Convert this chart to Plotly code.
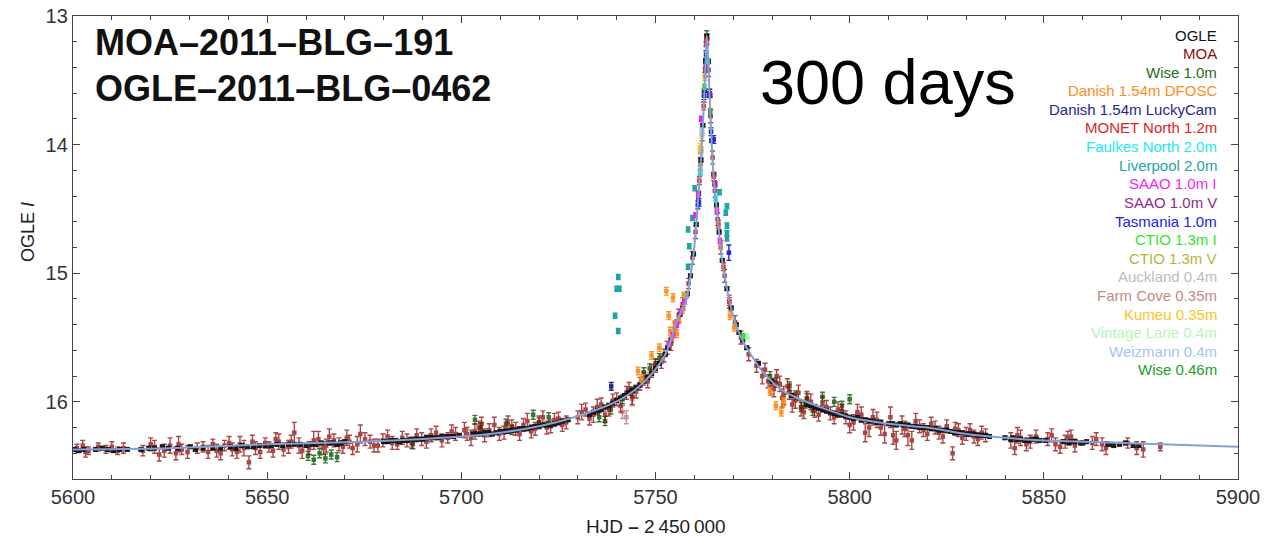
import plotly.graph_objects as go

# ---------------- data (HJD - 2450000, OGLE I magnitude) ----------------
MODEL_T = [5600, 5625, 5650, 5675, 5700, 5710, 5720, 5728, 5735, 5741, 5745, 5749.4,
           5752.4, 5754.1, 5755.4, 5758.0, 5759.0, 5759.8, 5760.5, 5761.1, 5761.7, 5762.2,
           5762.6, 5762.9, 5763.2, 5763.5, 5763.9, 5764.4, 5764.9, 5765.6, 5766.3, 5767.1,
           5768.4, 5769.3, 5770.5, 5772.2, 5774.7, 5777.7, 5782.1, 5787.2, 5792.3, 5800,
           5810, 5820, 5830, 5840, 5850, 5870, 5900]
MODEL_MAG = [16.37, 16.36, 16.33, 16.31, 16.27, 16.24, 16.19, 16.13, 16.06, 15.98, 15.90, 15.77,
             15.64, 15.51, 15.38, 15.20, 15.02, 14.85, 14.62, 14.38, 14.12, 13.85,
             13.58, 13.35, 13.15, 13.30, 13.60, 13.95, 14.22, 14.45, 14.66, 14.89,
             15.12, 15.25, 15.38, 15.51, 15.64, 15.77, 15.90, 15.98, 16.04, 16.12,
             16.17, 16.20, 16.25, 16.28, 16.30, 16.32, 16.35]

OGLE_T = [5600.3, 5601.5, 5605.8, 5607.5, 5610.5, 5612.0, 5617.5, 5619.5, 5623.0, 5624.5,
          5630.2, 5631.5, 5636.0, 5640.5, 5642.0, 5643.5, 5645.0, 5646.5, 5648.0, 5651.0,
          5652.5, 5654.0, 5655.5, 5657.0, 5660.0, 5661.5, 5664.0, 5666.0, 5668.0, 5670.0,
          5680.0, 5682.0, 5684.0, 5686.0, 5688.0, 5690.0, 5692.0, 5694.0, 5696.0, 5698.0,
          5699.5, 5704.0, 5706.0, 5708.0, 5710.0, 5712.0, 5714.0, 5716.0, 5718.0, 5720.0,
          5722.0, 5724.0, 5726.0, 5727.5, 5733.0, 5735.0, 5737.0, 5739.0, 5741.0, 5743.0,
          5745.0, 5747.0, 5749.0, 5751.0, 5752.5, 5754.0, 5755.5, 5757.0, 5758.2, 5759.0,
          5759.8, 5760.5, 5761.1, 5761.7, 5762.2, 5762.6, 5762.9, 5763.2, 5763.6, 5764.0,
          5764.5, 5765.0, 5765.7, 5766.4, 5767.2, 5768.4, 5769.5, 5770.8, 5772.5, 5789.0,
          5791.0, 5793.0, 5795.0, 5797.0, 5799.0, 5801.0, 5803.0, 5805.0, 5807.0, 5810.0,
          5812.0, 5814.0, 5816.0, 5818.0, 5820.0, 5822.0, 5824.0, 5826.0, 5828.0, 5830.0,
          5832.0, 5834.0, 5836.0, 5840.0, 5841.5, 5843.0, 5845.0, 5847.0, 5849.0, 5850.5,
          5855.0, 5856.5, 5858.0, 5859.5, 5861.0, 5866.5, 5868.0, 5869.5, 5873.0, 5874.5,
          5602.8, 5609.0, 5614.0, 5621.0, 5627.0, 5633.5, 5638.0, 5649.5, 5658.5, 5662.5,
          5667.0, 5669.0, 5681.0, 5683.0, 5685.0, 5687.0, 5689.0, 5691.0, 5693.0, 5695.0,
          5697.0, 5703.0, 5705.0, 5707.0, 5709.0, 5711.0, 5713.0, 5715.0, 5717.0, 5719.0,
          5721.0, 5723.0, 5725.0, 5734.0, 5736.0, 5738.0, 5740.0, 5742.0, 5744.0, 5746.0,
          5748.0, 5750.0, 5753.2, 5756.3, 5771.5, 5773.5, 5776.5, 5780.0, 5785.0, 5790.0,
          5792.0, 5794.0, 5796.0, 5798.0, 5800.0, 5802.0, 5804.0, 5806.0, 5808.0, 5811.0,
          5813.0, 5815.0, 5817.0, 5819.0, 5821.0, 5823.0, 5825.0, 5827.0, 5829.0, 5831.0,
          5833.0, 5835.0, 5842.0, 5844.0, 5846.0, 5848.0, 5857.0, 5860.0, 5867.5, 5871.0]
OGLE_MAG = [16.37, 16.38, 16.37, 16.36, 16.38, 16.37, 16.37, 16.36, 16.35, 16.36,
            16.35, 16.37, 16.36, 16.35, 16.36, 16.34, 16.35, 16.35, 16.34, 16.34,
            16.33, 16.34, 16.33, 16.33, 16.34, 16.33, 16.32, 16.32, 16.33, 16.31,
            16.31, 16.30, 16.31, 16.30, 16.29, 16.29, 16.28, 16.28, 16.27, 16.27,
            16.26, 16.25, 16.24, 16.25, 16.23, 16.23, 16.22, 16.21, 16.20, 16.19,
            16.18, 16.17, 16.15, 16.14, 16.10, 16.07, 16.04, 16.01, 15.97, 15.93,
            15.89, 15.84, 15.78, 15.70, 15.63, 15.52, 15.38, 15.27, 15.16, 15.02,
            14.85, 14.62, 14.38, 14.12, 13.85, 13.58, 13.35, 13.16, 13.35, 13.62,
            13.97, 14.23, 14.47, 14.68, 14.90, 15.12, 15.27, 15.40, 15.52, 16.02,
            16.04, 16.06, 16.08, 16.10, 16.11, 16.13, 16.14, 16.15, 16.16, 16.17,
            16.18, 16.18, 16.19, 16.20, 16.20, 16.21, 16.22, 16.23, 16.24, 16.25,
            16.25, 16.26, 16.27, 16.28, 16.29, 16.29, 16.30, 16.29, 16.30, 16.30,
            16.31, 16.32, 16.31, 16.32, 16.31, 16.33, 16.34, 16.33, 16.34, 16.34,
            16.37, 16.37, 16.37, 16.36, 16.36, 16.36, 16.36, 16.34, 16.33, 16.33,
            16.32, 16.32, 16.31, 16.30, 16.30, 16.29, 16.29, 16.28, 16.28, 16.27,
            16.27, 16.25, 16.25, 16.24, 16.24, 16.23, 16.22, 16.21, 16.21, 16.19,
            16.18, 16.18, 16.16, 16.08, 16.06, 16.03, 15.99, 15.95, 15.91, 15.87,
            15.81, 15.74, 15.58, 15.32, 15.46, 15.58, 15.70, 15.84, 15.95, 16.03,
            16.05, 16.07, 16.09, 16.10, 16.12, 16.12, 16.14, 16.15, 16.16, 16.17,
            16.17, 16.18, 16.19, 16.20, 16.21, 16.22, 16.22, 16.24, 16.24, 16.25,
            16.26, 16.26, 16.28, 16.29, 16.30, 16.29, 16.31, 16.32, 16.33, 16.32]
OGLE_ERR = 0.012

MOA_T = [5601.0, 5602.5, 5604.0, 5608.5, 5610.0, 5611.5, 5621.0, 5623.5, 5625.0, 5626.5,
         5628.0, 5633.5, 5637.0, 5639.0, 5641.0, 5643.0, 5645.3, 5647.0, 5649.5, 5651.5,
         5653.0, 5655.5, 5657.0, 5659.0, 5662.0, 5664.5, 5666.0, 5668.5, 5670.5, 5672.0,
         5674.0, 5676.5, 5678.5, 5681.0, 5683.5, 5686.0, 5688.5, 5691.0, 5693.5, 5696.5,
         5698.5, 5700.8, 5702.5, 5704.5, 5706.0, 5708.5, 5711.0, 5713.0, 5715.0, 5717.0,
         5719.0, 5721.0, 5723.0, 5725.0, 5727.0, 5731.0, 5733.0, 5735.0, 5737.0, 5739.0,
         5741.0, 5742.5, 5744.0, 5746.0, 5748.0, 5750.0, 5751.5, 5753.0, 5755.0, 5757.0,
         5758.5, 5759.5, 5760.3, 5761.0, 5761.6, 5762.0, 5762.5, 5762.9, 5763.3, 5763.7,
         5764.2, 5764.7, 5765.3, 5766.0, 5766.8, 5767.8, 5769.0, 5770.5, 5772.0, 5774.0,
         5776.0, 5777.5, 5779.0, 5780.5, 5782.0, 5783.0, 5784.5, 5786.0, 5787.5, 5789.0,
         5791.0, 5793.0, 5795.0, 5797.0, 5799.0, 5801.0, 5803.0, 5805.0, 5807.0, 5809.0,
         5810.5, 5812.0, 5813.5, 5815.0, 5817.0, 5819.0, 5821.0, 5823.0, 5825.0, 5826.5,
         5828.0, 5830.0, 5832.0, 5834.0, 5841.5, 5842.5, 5844.0, 5845.5, 5848.0, 5851.0,
         5853.0, 5855.5, 5857.0, 5862.5, 5865.0, 5871.6, 5873.9, 5875.6, 5880.0,
         5603.2, 5606.5, 5613.0, 5618.0, 5620.0, 5622.2, 5627.2, 5629.5, 5632.0, 5634.8,
         5636.0, 5638.0, 5640.2, 5642.2, 5644.0, 5646.2, 5648.2, 5650.5, 5652.2, 5654.2,
         5656.2, 5658.2, 5660.8, 5663.2, 5665.2, 5667.2, 5669.5, 5671.2, 5673.2, 5675.2,
         5677.5, 5679.8, 5682.2, 5684.8, 5687.2, 5689.8, 5692.2, 5695.0, 5697.5, 5701.5,
         5703.5, 5705.2, 5707.2, 5709.8, 5712.0, 5714.0, 5716.0, 5718.0, 5720.0, 5722.0,
         5724.0, 5726.0, 5730.0, 5732.0, 5734.0, 5736.0, 5738.0, 5740.0, 5743.2, 5745.0,
         5747.0, 5749.0, 5752.2, 5754.0, 5756.0, 5778.2, 5779.8, 5781.2, 5782.6, 5784.0,
         5785.2, 5786.8, 5788.2, 5790.0, 5792.0, 5794.0, 5796.0, 5798.0, 5800.0, 5802.0,
         5804.0, 5806.0, 5808.0, 5811.2, 5814.2, 5816.0, 5818.0, 5820.0, 5822.0, 5824.0,
         5827.2, 5829.0, 5831.0, 5833.0, 5835.0, 5843.2, 5846.5, 5852.0, 5854.2, 5856.2,
         5858.0, 5863.5, 5866.0]
MOA_MAG = [16.36, 16.34, 16.38, 16.37, 16.35, 16.38, 16.35, 16.38, 16.34, 16.40,
           16.37, 16.35, 16.38, 16.34, 16.37, 16.33, 16.47, 16.36, 16.32, 16.38,
           16.31, 16.35, 16.24, 16.38, 16.30, 16.36, 16.27, 16.33, 16.28, 16.36,
           16.25, 16.31, 16.34, 16.27, 16.33, 16.30, 16.26, 16.31, 16.24, 16.28,
           16.25, 16.22, 16.28, 16.20, 16.26, 16.18, 16.24, 16.19, 16.25, 16.15,
           16.21, 16.12, 16.19, 16.13, 16.16, 16.08, 16.13, 16.04, 16.10, 15.99,
           16.03, 15.93, 15.96, 15.86, 15.84, 15.72, 15.69, 15.58, 15.43, 15.24,
           15.08, 14.88, 14.68, 14.42, 14.15, 13.92, 13.62, 13.38, 13.18, 13.42,
           13.78, 14.10, 14.36, 14.58, 14.80, 15.02, 15.22, 15.38, 15.50, 15.63,
           15.72, 15.80, 15.84, 15.90, 15.86, 15.95, 15.92, 15.99, 16.05, 15.98,
           16.07, 16.02, 16.09, 16.06, 16.12, 16.16, 16.10, 16.20, 16.14, 16.25,
           16.12, 16.30, 16.18, 16.26, 16.15, 16.22, 16.17, 16.24, 16.19, 16.40,
           16.22, 16.25, 16.27, 16.24, 16.30, 16.36, 16.28, 16.33, 16.27, 16.29,
           16.33, 16.31, 16.27, 16.32, 16.33, 16.32, 16.36, 16.37, 16.35,
           16.39, 16.35, 16.36, 16.38, 16.33, 16.41, 16.33, 16.39, 16.36, 16.39,
           16.33, 16.40, 16.32, 16.39, 16.36, 16.31, 16.39, 16.35, 16.29, 16.37,
           16.31, 16.34, 16.36, 16.29, 16.34, 16.30, 16.35, 16.31, 16.33, 16.29,
           16.34, 16.30, 16.32, 16.28, 16.32, 16.29, 16.26, 16.30, 16.23, 16.25,
           16.23, 16.17, 16.22, 16.25, 16.16, 16.21, 16.18, 16.23, 16.16, 16.20,
           16.14, 16.18, 16.12, 16.06, 16.10, 16.02, 16.06, 15.98, 15.90, 15.92,
           15.82, 15.76, 15.64, 15.55, 15.33, 15.75, 15.88, 15.80, 15.97, 15.88,
           16.02, 15.93, 16.08, 16.00, 16.10, 16.04, 16.12, 16.07, 16.18, 16.08,
           16.24, 16.12, 16.20, 16.26, 16.21, 16.30, 16.19, 16.25, 16.20, 16.27,
           16.21, 16.28, 16.22, 16.29, 16.26, 16.26, 16.31, 16.26, 16.35, 16.28,
           16.34, 16.29, 16.36]
MOA_ERR = [0.03, 0.04, 0.03, 0.03, 0.04, 0.03, 0.05, 0.05, 0.06, 0.05,
           0.04, 0.04, 0.05, 0.04, 0.05, 0.06, 0.05, 0.05, 0.04, 0.05,
           0.06, 0.05, 0.08, 0.06, 0.07, 0.05, 0.06, 0.05, 0.06, 0.05,
           0.07, 0.05, 0.05, 0.05, 0.04, 0.05, 0.05, 0.05, 0.05, 0.04,
           0.05, 0.06, 0.06, 0.05, 0.05, 0.06, 0.05, 0.05, 0.05, 0.06,
           0.05, 0.05, 0.05, 0.05, 0.05, 0.06, 0.05, 0.06, 0.06, 0.05,
           0.05, 0.05, 0.06, 0.05, 0.05, 0.05, 0.05, 0.05, 0.05, 0.05,
           0.04, 0.05, 0.05, 0.05, 0.05, 0.05, 0.05, 0.05, 0.04, 0.05,
           0.05, 0.05, 0.05, 0.05, 0.05, 0.05, 0.05, 0.05, 0.05, 0.05,
           0.05, 0.06, 0.05, 0.06, 0.06, 0.07, 0.06, 0.06, 0.06, 0.06,
           0.05, 0.06, 0.05, 0.06, 0.05, 0.06, 0.06, 0.07, 0.06, 0.07,
           0.08, 0.07, 0.07, 0.08, 0.06, 0.05, 0.05, 0.05, 0.05, 0.05,
           0.05, 0.05, 0.05, 0.05, 0.06, 0.05, 0.06, 0.05, 0.05, 0.05,
           0.05, 0.05, 0.05, 0.05, 0.05, 0.04, 0.05, 0.06, 0.03,
           0.04, 0.03, 0.04, 0.04, 0.05, 0.05, 0.06, 0.05, 0.04, 0.05,
           0.04, 0.05, 0.05, 0.05, 0.06, 0.05, 0.05, 0.04, 0.05, 0.05,
           0.05, 0.06, 0.05, 0.06, 0.05, 0.05, 0.05, 0.05, 0.06, 0.05,
           0.05, 0.05, 0.05, 0.05, 0.04, 0.05, 0.05, 0.05, 0.05, 0.05,
           0.06, 0.05, 0.05, 0.05, 0.05, 0.05, 0.05, 0.05, 0.05, 0.05,
           0.05, 0.05, 0.05, 0.05, 0.06, 0.05, 0.05, 0.05, 0.05, 0.05,
           0.05, 0.05, 0.05, 0.05, 0.05, 0.05, 0.06, 0.05, 0.07, 0.06,
           0.06, 0.06, 0.05, 0.06, 0.05, 0.05, 0.05, 0.05, 0.06, 0.06,
           0.07, 0.06, 0.06, 0.07, 0.06, 0.07, 0.05, 0.05, 0.05, 0.05,
           0.05, 0.05, 0.05, 0.05, 0.05, 0.06, 0.05, 0.05, 0.05, 0.05,
           0.05, 0.05, 0.05]

WISE1_T = [5660.5, 5662.0, 5663.5, 5665.0, 5666.5, 5668.0, 5687.5, 5703.5, 5705.0, 5711.5,
           5713.0, 5718.5, 5720.0, 5722.5, 5735.5, 5737.0, 5738.5, 5741.5, 5744.0, 5747.0,
           5748.5, 5750.0, 5751.0, 5761.5, 5763.2, 5779.5, 5781.0, 5784.5, 5786.0, 5787.5,
           5789.0, 5790.5, 5793.0, 5796.0, 5798.0, 5800.0]
WISE1_MAG = [16.42, 16.45, 16.40, 16.44, 16.41, 16.43, 16.33, 16.14, 16.20, 16.17,
             16.22, 16.10, 16.16, 16.12, 16.12, 16.15, 16.06, 15.98, 15.92, 15.77,
             15.74, 15.70, 15.66, 14.20, 13.15, 15.80, 15.85, 15.88, 15.95, 16.04,
             15.97, 16.07, 15.96, 16.00, 16.03, 15.98]
WISE1_ERR = 0.035

DFOSC_T = [5745.5, 5746.5, 5749.0, 5751.0, 5752.8, 5753.4, 5753.8, 5754.2, 5754.5, 5755.0,
           5755.5, 5756.0, 5757.0, 5762.7, 5766.8, 5769.2, 5770.3, 5779.5, 5781.0, 5782.4, 5783.0]
DFOSC_MAG = [15.76, 15.82, 15.64, 15.58, 15.14, 15.33, 15.45, 15.50, 15.19, 15.40,
             15.47, 15.36, 15.28, 13.47, 14.78, 15.33, 15.42, 15.92, 16.03, 16.08, 16.00]
DFOSC_ERR = 0.03

LUCKY_T = [5738.6, 5760.9, 5762.5, 5763.0, 5764.3]
LUCKY_MAG = [15.88, 14.47, 13.62, 13.30, 13.90]
LUCKY_ERR = 0.03

MONET_T = [5761.3, 5762.4, 5763.1, 5764.0, 5765.0, 5766.2, 5767.5, 5769.0]
MONET_MAG = [14.28, 13.70, 13.20, 13.60, 14.25, 14.62, 14.95, 15.22]
MONET_ERR = 0.03

FAULKES_T = [5761.5, 5763.4, 5765.5]
FAULKES_MAG = [14.22, 13.35, 14.42]
FAULKES_ERR = 0.02

LIVERPOOL_T = [5740.4, 5740.0, 5740.7, 5739.6, 5740.4, 5760.1, 5759.5, 5758.4, 5758.7, 5758.4,
               5766.5, 5768.4, 5768.1, 5768.4, 5768.4, 5768.4]
LIVERPOOL_MAG = [15.03, 15.12, 15.12, 15.33, 15.45, 14.34, 14.57, 14.66, 14.79, 14.95,
                 14.37, 14.48, 14.53, 14.63, 14.69, 14.73]
LIVERPOOL_ERR = 0.02

SAAOI_T = [5753.5, 5754.5, 5755.5, 5756.5, 5757.5, 5758.0, 5760.3, 5761.0, 5761.8, 5763.0,
           5765.4, 5765.8, 5766.6]
SAAOI_MAG = [15.55, 15.48, 15.40, 15.30, 15.22, 15.17, 14.55, 14.38, 13.80, 13.22,
             14.31, 14.52, 14.75]
SAAOI_ERR = 0.02

SAAOV_T = [5762.8, 5765.2]
SAAOV_MAG = [13.42, 14.30]
SAAOV_ERR = 0.02

TASMANIA_T = [5761.2, 5763.8, 5765.0, 5768.9]
TASMANIA_MAG = [14.45, 13.60, 13.96, 14.84]
TASMANIA_ERR = [0.03, 0.03, 0.03, 0.06]

CTIOI_T = [5762.6, 5772.8]
CTIOI_MAG = [13.55, 15.49]
CTIOI_ERR = 0.02

CTIOV_T = [5757.3, 5761.5]
CTIOV_MAG = [15.17, 14.05]
CTIOV_ERR = 0.02

AUCKLAND_T = [5761.6, 5761.9]
AUCKLAND_MAG = [14.18, 14.05]
AUCKLAND_ERR = 0.03

FARMCOVE_T = [5741.5, 5742.5, 5744.0]
FARMCOVE_MAG = [16.08, 16.12, 15.98]
FARMCOVE_ERR = 0.05

KUMEU_T = [5761.5, 5761.9]
KUMEU_MAG = [14.02, 13.92]
KUMEU_ERR = 0.03

VINTAGE_T = [5773.7]
VINTAGE_MAG = [15.50]
VINTAGE_ERR = 0.03

WEIZMANN_T = [5762.0]
WEIZMANN_MAG = [13.90]
WEIZMANN_ERR = 0.03

WISE046_T = [5764.1, 5788.5]
WISE046_MAG = [13.75, 16.02]
WISE046_ERR = 0.03

LEGEND_LABELS = ["OGLE", "MOA", "Wise 1.0m", "Danish 1.54m DFOSC", "Danish 1.54m LuckyCam",
                 "MONET North 1.2m", "Faulkes North 2.0m", "Liverpool 2.0m", "SAAO 1.0m I",
                 "SAAO 1.0m V", "Tasmania 1.0m", "CTIO 1.3m I", "CTIO 1.3m V", "Auckland 0.4m",
                 "Farm Cove 0.35m", "Kumeu 0.35m", "Vintage Lane 0.4m", "Weizmann 0.4m",
                 "Wise 0.46m"]

EVENT_NAMES = ["MOA\u20132011\u2013BLG\u2013191", "OGLE\u20132011\u2013BLG\u20130462"]
DURATION_LABEL = "300 days"

# ---------------- styles ----------------
COLORS = {
    "OGLE": "#111111", "MOA": "#8c0a0a", "Wise 1.0m": "#1f6b1f",
    "Danish 1.54m DFOSC": "#ff8c1a", "Danish 1.54m LuckyCam": "#25258f",
    "MONET North 1.2m": "#e3231c", "Faulkes North 2.0m": "#1ae8f5",
    "Liverpool 2.0m": "#1fa3a3", "SAAO 1.0m I": "#f21ff2", "SAAO 1.0m V": "#8f2a8f",
    "Tasmania 1.0m": "#2020f0", "CTIO 1.3m I": "#2ee62e", "CTIO 1.3m V": "#b5b538",
    "Auckland 0.4m": "#bcbcbc", "Farm Cove 0.35m": "#c48a8a", "Kumeu 0.35m": "#ffc21a",
    "Vintage Lane 0.4m": "#b5f5b5", "Weizmann 0.4m": "#a5c4f5", "Wise 0.46m": "#24a024",
}
MARKER_SIZE = {"OGLE": 5}

SERIES = [
    ("Wise 0.46m", WISE046_T, WISE046_MAG, WISE046_ERR, 1.0),
    ("Farm Cove 0.35m", FARMCOVE_T, FARMCOVE_MAG, FARMCOVE_ERR, 0.9),
    ("Wise 1.0m", WISE1_T, WISE1_MAG, WISE1_ERR, 0.9),
    ("MOA", MOA_T, MOA_MAG, MOA_ERR, 0.75),
    ("OGLE", OGLE_T, OGLE_MAG, OGLE_ERR, 0.95),
    ("Danish 1.54m DFOSC", DFOSC_T, DFOSC_MAG, DFOSC_ERR, 0.95),
    ("Liverpool 2.0m", LIVERPOOL_T, LIVERPOOL_MAG, LIVERPOOL_ERR, 1.0),
    ("SAAO 1.0m I", SAAOI_T, SAAOI_MAG, SAAOI_ERR, 1.0),
    ("SAAO 1.0m V", SAAOV_T, SAAOV_MAG, SAAOV_ERR, 1.0),
    ("MONET North 1.2m", MONET_T, MONET_MAG, MONET_ERR, 1.0),
    ("Faulkes North 2.0m", FAULKES_T, FAULKES_MAG, FAULKES_ERR, 1.0),
    ("Danish 1.54m LuckyCam", LUCKY_T, LUCKY_MAG, LUCKY_ERR, 1.0),
    ("Tasmania 1.0m", TASMANIA_T, TASMANIA_MAG, TASMANIA_ERR, 1.0),
    ("CTIO 1.3m I", CTIOI_T, CTIOI_MAG, CTIOI_ERR, 1.0),
    ("CTIO 1.3m V", CTIOV_T, CTIOV_MAG, CTIOV_ERR, 1.0),
    ("Auckland 0.4m", AUCKLAND_T, AUCKLAND_MAG, AUCKLAND_ERR, 1.0),
    ("Kumeu 0.35m", KUMEU_T, KUMEU_MAG, KUMEU_ERR, 1.0),
    ("Vintage Lane 0.4m", VINTAGE_T, VINTAGE_MAG, VINTAGE_ERR, 1.0),
    ("Weizmann 0.4m", WEIZMANN_T, WEIZMANN_MAG, WEIZMANN_ERR, 1.0),
]

FONT = "Liberation Sans, Arial, Helvetica, sans-serif"

fig = go.Figure()

for name, t, m, err, op in SERIES:
    if isinstance(err, list):
        ey = dict(type="data", array=err, visible=True)
    else:
        ey = dict(type="constant", value=err, visible=True)
    ey.update(color=COLORS[name], thickness=1.4, width=2.5)
    fig.add_trace(go.Scatter(
        x=t, y=m, mode="markers", name=name, opacity=op,
        marker=dict(symbol="square", size=MARKER_SIZE.get(name, 4.5), color=COLORS[name],
                    line=dict(width=0)),
        error_y=ey, showlegend=False, hoverinfo="x+y+name"))

fig.add_trace(go.Scatter(
    x=MODEL_T, y=MODEL_MAG, mode="lines", name="model",
    line=dict(color="#7fa3d6", width=2.0, shape="spline", smoothing=0.6),
    showlegend=False, hoverinfo="skip"))

# page geometry (body margin removed in the page, so figure starts at 0,0)
PAGE_W, PAGE_H = 1266, 542
# plot-area edges in page pixels
PX_L, PX_R, PX_T, PX_B = 73, 1238, 16, 479


def px_x(p):
    return (p - PX_L) / (PX_R - PX_L)


def px_y(p):
    return (PX_B - p) / (PX_B - PX_T)


ann = []
for i, lab in enumerate(LEGEND_LABELS):
    ann.append(dict(text=lab, x=px_x(1219), y=px_y(35 + 18.6 * i), xref="paper", yref="paper",
                    xanchor="right", yanchor="middle", showarrow=False,
                    font=dict(family=FONT, size=15, color=COLORS[lab])))

for i, nm in enumerate(EVENT_NAMES):
    ann.append(dict(text="<b>" + nm + "</b>", x=px_x(93), y=px_y(42 + 46 * i), xref="paper",
                    yref="paper", xanchor="left", yanchor="middle", showarrow=False,
                    font=dict(family=FONT, size=36, color="#111111")))

ann.append(dict(text=DURATION_LABEL, x=px_x(758), y=px_y(82), xref="paper", yref="paper",
                xanchor="left", yanchor="middle", showarrow=False,
                font=dict(family=FONT, size=63, color="#000000")))

ann.append(dict(text="OGLE <i>I</i>", x=px_x(28), y=px_y(232), xref="paper", yref="paper",
                xanchor="center", yanchor="middle", textangle=-90, showarrow=False,
                font=dict(family=FONT, size=18, color="#222222")))
ann.append(dict(text="HJD <b>\u2013</b> 2\u2009450\u2009000", x=0.5, y=px_y(526), xref="paper",
                yref="paper", xanchor="center", yanchor="middle", showarrow=False,
                font=dict(family=FONT, size=19, color="#222222")))

axis_common = dict(showgrid=False, zeroline=False, showline=True, linecolor="#444444",
                   linewidth=1.3, mirror="allticks", ticks="inside", ticklen=7,
                   tickwidth=1.2, tickcolor="#444444", automargin=False,
                   ticklabeloverflow="allow",
                   tickfont=dict(family=FONT, size=20, color="#333333"))

fig.update_layout(
    width=PAGE_W, height=PAGE_H,
    margin=dict(l=PX_L, r=PAGE_W - PX_R, t=PX_T, b=PAGE_H - PX_B, autoexpand=False),
    paper_bgcolor="white", plot_bgcolor="white",
    xaxis=dict(range=[5600, 5900], tick0=5600, dtick=50,
               minor=dict(dtick=10, ticks="inside", ticklen=4, tickcolor="#444444"),
               **axis_common),
    yaxis=dict(range=[16.6, 13], tick0=13, dtick=1,
               minor=dict(dtick=0.2, ticks="inside", ticklen=4, tickcolor="#444444"),
               **axis_common),
    annotations=ann,
)

fig.write_html("out.html",
               config={"displayModeBar": False},
               post_script="document.body.style.margin='0px';"
                           "document.body.style.overflow='hidden';")
